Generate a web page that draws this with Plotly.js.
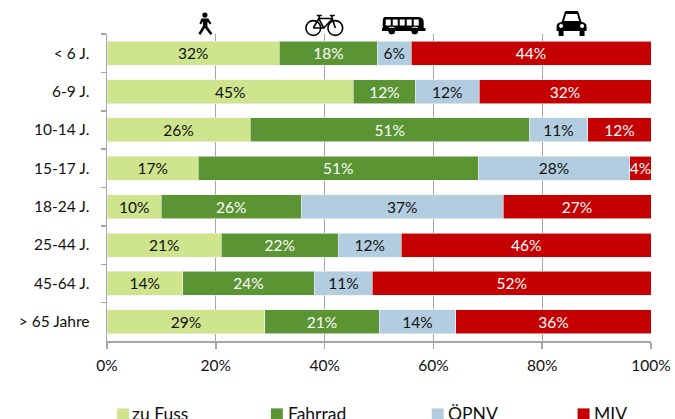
<!DOCTYPE html>
<html><head><meta charset="utf-8">
<script src="https://cdn.plot.ly/plotly-3.0.1.min.js"></script>
<style>html,body{margin:0;padding:0;background:#fff;overflow:hidden}#c{width:675px;height:419px}</style>
</head><body><div id="c"></div>
<script>
var categories = ['< 6 J.','6-9 J.','10-14 J.','15-17 J.','18-24 J.','25-44 J.','45-64 J.','> 65 Jahre'];
var seriesNames = ['zu Fuss','Fahrrad','ÖPNV','MIV'];
var seriesColors = ['#cfe58d','#5a9433','#b3cde0','#c40000'];
var zuFuss  = [31.7,45.3,26.3,16.8,10.0,21.0,13.9,29.0];
var fahrrad = [18.0,11.4,51.3,51.4,25.7,21.5,24.2,21.0];
var oepnv   = [ 6.2,11.7,10.8,27.9,37.1,11.6,10.7,14.1];
var miv     = [44.1,31.6,11.6, 3.9,27.2,45.9,51.2,35.9];
var zuFussLabels  = ['32%','45%','26%','17%','10%','21%','14%','29%'];
var fahrradLabels = ['18%','12%','51%','51%','26%','22%','24%','21%'];
var oepnvLabels   = ['6%','12%','11%','28%','37%','12%','11%','14%'];
var mivLabels     = ['44%','32%','12%','4%','27%','46%','52%','36%'];
var legendSwatchX = [117,271,432,578];
var legendTextX = [131,287,447,593];

var FONT = 'Lato, "Open Sans", sans-serif';
var INK = '#111111';
function bar(i, vals, labels, txt){
  return {type:'bar', orientation:'h', name:seriesNames[i], x:vals, y:categories, text:labels,
    textposition:'inside', insidetextanchor:'middle', textangle:0, constraintext:'none',
    textfont:{family:FONT,size:15.5,color:txt}, marker:{color:seriesColors[i],line:{color:'#eef2ee',width:0.6}},
    hoverinfo:'x+y+name'};
}
var data = [
  bar(0, zuFuss, zuFussLabels, INK),
  bar(1, fahrrad, fahrradLabels, '#ffffff'),
  bar(2, oepnv, oepnvLabels, INK),
  bar(3, miv, mivLabels, '#ffffff')
];
function svg(w,h,body){return 'data:image/svg+xml;base64,'+btoa('<svg xmlns="http://www.w3.org/2000/svg" width="'+w+'" height="'+h+'" viewBox="0 0 '+w+' '+h+'">'+body+'</svg>');}
var walker = svg(20,24,'<circle cx="10" cy="3" r="2.6"/><path d="M6.5 6.5h7l3 5-1.5 1-2.5-3v5l5 7-2 1.5-5.5-7-4.5 7-2-1.5 4.5-7.5V9.5l-2 3-1.5-1z"/>');
var bike = svg(40,24,'<g fill="none" stroke="#000" stroke-width="1.6"><circle cx="8.5" cy="15" r="7.4"/><circle cx="30.5" cy="15" r="7.4"/><path d="M8.5 15L14 5.5H27.5L30.5 15M14 5.5L19 15H8.5M19 15L27 6.5M12 2.5h5M14 2.5l1 3M25 2.5h5M27 2.5l.5 3"/></g>');
var bus = svg(44,20,'<path d="M3 1H36Q42 1 42 6V15H1V6Q1 1 3 1Z"/><g fill="#fff"><rect x="4" y="3.5" width="5" height="6"/><rect x="11" y="3.5" width="5" height="6"/><rect x="18" y="3.5" width="5" height="6"/><rect x="25" y="3.5" width="5" height="6"/><rect x="32" y="3.5" width="5" height="6"/></g><circle cx="10" cy="15" r="4" stroke="#fff"/><circle cx="33" cy="15" r="4" stroke="#fff"/><rect x="0" y="12" width="44" height="3"/>');
var car = svg(32,26,'<path d="M6 12L9 2.5Q9.5 1 11 1H21Q22.5 1 23 2.5L26 12Q31 13 31 16V21H1V16Q1 13 6 12Z"/><path fill="#fff" d="M8.5 11L10.5 4H21.5L23.5 11Z"/><circle cx="5.5" cy="16" r="2" fill="#fff"/><circle cx="26.5" cy="16" r="2" fill="#fff"/><rect x="3" y="20" width="5" height="6"/><rect x="24" y="20" width="5" height="6"/>');
var W=675,H=419;
function px(x){return (x-107)/544.5;}
function py(y){return (341.5-y)/307.5;}
function img(src,x,y,w,h){return {source:src,xref:'paper',yref:'paper',x:px(x),y:py(y),sizex:w/544.5,sizey:h/307.5,xanchor:'left',yanchor:'top',sizing:'stretch',layer:'above'};}
var layout = {
  width:W,height:H,barmode:'stack',bargap:0.375,showlegend:false,
  paper_bgcolor:'#fff',plot_bgcolor:'#fff',
  margin:{l:107,r:23.5,t:34,b:77.5,autoexpand:false},
  font:{family:FONT,size:15.5,color:INK},
  xaxis:{range:[0,100],tick0:0,dtick:20,ticksuffix:'%',showgrid:true,gridcolor:'#a6a6a6',gridwidth:1,
    showline:true,linecolor:'#a6a6a6',linewidth:1.5,ticks:'outside',ticklen:6,tickcolor:'#a6a6a6',tickwidth:1.5,
    zeroline:false,ticklabelstandoff:4,tickfont:{family:FONT,size:15.5,color:INK}},
  yaxis:{type:'category',autorange:'reversed',showgrid:false,showline:true,linecolor:'#a6a6a6',linewidth:1.5,
    ticks:'outside',ticklen:5,tickcolor:'#a6a6a6',tickwidth:1.5,tickson:'boundaries',ticklabelstandoff:13,
    tickfont:{family:FONT,size:15.5,color:INK}},
  shapes:seriesNames.map(function(n,i){return {type:'rect',xref:'paper',yref:'paper',x0:px(legendSwatchX[i]),x1:px(legendSwatchX[i]+12),y0:py(409),y1:py(421),fillcolor:seriesColors[i],line:{width:0}};}),
  annotations:seriesNames.map(function(n,i){return {text:n,xref:'paper',yref:'paper',x:px(legendTextX[i]),y:py(414),xanchor:'left',yanchor:'middle',showarrow:false,borderpad:0,font:{family:FONT,size:17.5,color:INK}};}),
  images:[img(walker,195,12,20,24),img(bike,305,13,40,24),img(bus,382,16,44,20),img(car,556,10,32,26)]
};
Plotly.newPlot('c',data,layout,{staticPlot:true,displayModeBar:false});
</script></body></html>
